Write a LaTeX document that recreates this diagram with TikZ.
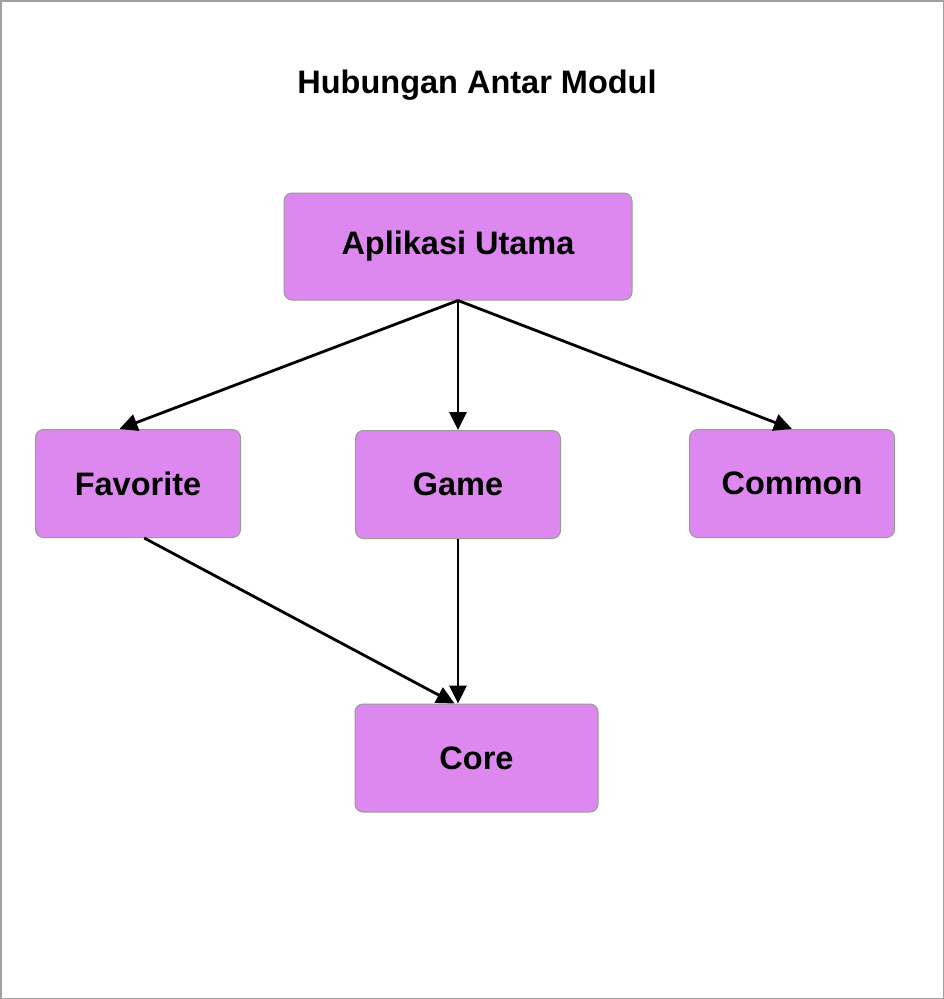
\documentclass[tikz,border=0pt]{standalone}
\usepackage{fontspec}
\setmainfont{Liberation Sans}
\usetikzlibrary{arrows.meta,positioning,calc}
\definecolor{modfill}{HTML}{DD88EE}
\definecolor{modline}{HTML}{9A9A9A}
\definecolor{frameline}{HTML}{A0A0A0}

\begin{document}
\begin{tikzpicture}[x=1pt,y=-1pt,
  modul/.style={draw=modline,line width=1pt,rounded corners=8pt,fill=modfill,
    minimum width=205pt,minimum height=108pt,font=\fontsize{32.5}{38}\selectfont\bfseries},
  edge/.style={-{Triangle[length=18pt,width=17pt]},black,line width=2.8pt}
]
  \useasboundingbox (0,0) rectangle (944,999);
  \draw[frameline,line width=1.5pt] (0.75,0.75) rectangle (943.25,998.25);
  \node[font=\fontsize{32.5}{38}\selectfont\bfseries] (title) at (477,85) {Hubungan Antar Modul};
  \node[modul,minimum width=348pt,minimum height=107pt] (app) at (458,246.5) {Aplikasi Utama};
  \node[modul] (fav)    at (138,483.5) {Favorite};
  \node[modul] (game)   at (458,484.5) {Game};
  \node[modul] (common) at (792,483.5) {Common};
  \node[modul,minimum width=243pt] (core) at (476.5,758) {Core};
  \draw[edge] (app.south) -- ($(fav.north west)!0.41!(fav.north east)$);
  \draw[edge] (app.south) -- (game.north);
  \draw[edge] (app.south) -- (common.north);
  \draw[edge] ($(fav.south west)!0.53!(fav.south east)$) -- ($(core.north west)!0.41!(core.north east)$);
  \draw[edge] (game.south) -- (game.south |- core.north);
\end{tikzpicture}
\end{document}
